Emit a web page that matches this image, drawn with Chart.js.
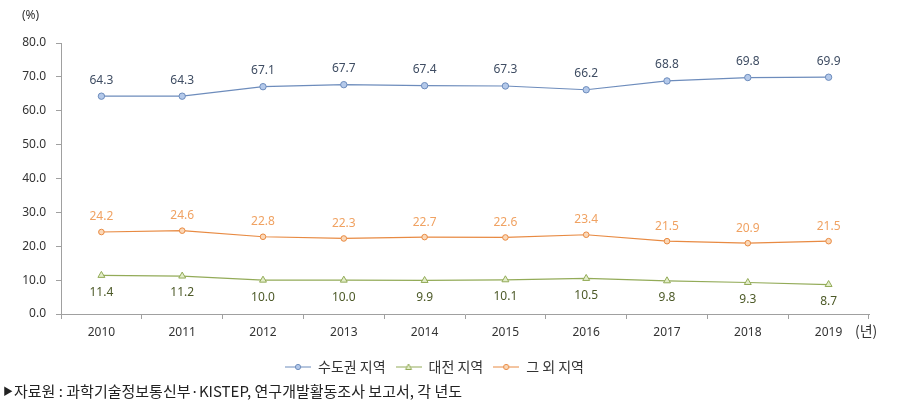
<!DOCTYPE html>
<html>
<head>
<meta charset="utf-8">
<script src="https://cdn.jsdelivr.net/npm/chart.js@4.4.0/dist/chart.umd.min.js"></script>
<style>
  html, body { margin: 0; padding: 0; background: #fff; }
  #wrap { position: relative; width: 897px; height: 415px; }
</style>
</head>
<body>
<div id="wrap"><canvas id="regionChart" width="897" height="415"></canvas></div>
<script>
const years = ['2010', '2011', '2012', '2013', '2014', '2015', '2016', '2017', '2018', '2019'];
const capitalArea = [64.3, 64.3, 67.1, 67.7, 67.4, 67.3, 66.2, 68.8, 69.8, 69.9];
const daejeon = [11.4, 11.2, 10.0, 10.0, 9.9, 10.1, 10.5, 9.8, 9.3, 8.7];
const otherArea = [24.2, 24.6, 22.8, 22.3, 22.7, 22.6, 23.4, 21.5, 20.9, 21.5];
const yTicks = [0, 10, 20, 30, 40, 50, 60, 70, 80];

const numFont = '"Noto Sans", "DejaVu Sans", sans-serif';
const krFont = '"Noto Sans CJK KR", "Noto Sans", sans-serif';

// little legend icons: line with the marker in the middle
function legendIcon(lineColor, fill, shape) {
    const c = document.createElement('canvas');
    c.width = 26; c.height = 10;
    const g = c.getContext('2d');
    g.strokeStyle = lineColor; g.lineWidth = 1;
    g.beginPath(); g.moveTo(0, 5); g.lineTo(26, 5); g.stroke();
    g.fillStyle = fill;
    g.beginPath();
    if (shape === 'triangle') {
        g.moveTo(13, 2); g.lineTo(16, 7.5); g.lineTo(10, 7.5); g.closePath();
    } else {
        g.arc(13, 5, 2.6, 0, Math.PI * 2);
    }
    g.fill(); g.stroke();
    return c;
}

const series = [
    { label: '수도권 지역', data: capitalArea, line: '#6d8cbc', fill: '#b4c9ea', shape: 'circle', r: 3.2, text: '#3f4d63', pos: 'above', off: 16 },
    { label: '대전 지역', data: daejeon, line: '#93ab58', fill: '#e2edc9', shape: 'triangle', r: 4, text: '#4d5a28', pos: 'below', off: 17 },
    { label: '그 외 지역', data: otherArea, line: '#e88a42', fill: '#fbd8b8', shape: 'circle', r: 2.8, text: '#f0a262', pos: 'above', off: 15 }
];

const valueLabels = {
    id: 'valueLabels',
    afterDatasetsDraw(chart) {
        const ctx = chart.ctx;
        ctx.save();
        ctx.font = '12px ' + numFont;
        ctx.textAlign = 'center';
        ctx.textBaseline = 'middle';
        chart.data.datasets.forEach((ds, i) => {
            const s = series[i];
            chart.getDatasetMeta(i).data.forEach((pt, j) => {
                const y = s.pos === 'above' ? pt.y - s.off : pt.y + s.off;
                ctx.fillStyle = s.text;
                ctx.fillText(ds.data[j].toFixed(1), pt.x, y);
            });
        });
        ctx.restore();
    }
};

const extraText = {
    id: 'extraText',
    afterDraw(chart) {
        const ctx = chart.ctx;
        ctx.save();
        ctx.fillStyle = '#333';
        ctx.textBaseline = 'middle';
        ctx.font = '12px ' + numFont;
        ctx.textAlign = 'left';
        ctx.fillText('(%)', 22, 16);
        ctx.font = '14px ' + krFont;
        ctx.fillText('(년)', 855, 331);
        ctx.font = '10px ' + krFont;
        ctx.fillStyle = '#222';
        ctx.fillText('▶', 3, 391);
        ctx.font = '15px ' + krFont;
        ctx.fillText('자료원 : 과학기술정보통신부·KISTEP, 연구개발활동조사 보고서, 각 년도', 14, 391);
        ctx.restore();
    }
};

const ctx = document.getElementById('regionChart').getContext('2d');
const chart = new Chart(ctx, {
    type: 'line',
    data: {
        labels: years,
        datasets: series.map(s => ({
            label: s.label,
            data: s.data,
            borderColor: s.line,
            borderWidth: 1.2,
            backgroundColor: s.fill,
            pointBackgroundColor: s.fill,
            pointBorderColor: s.line,
            pointBorderWidth: 1,
            pointStyle: s.shape,
            pointRadius: s.r,
            tension: 0
        }))
    },
    options: {
        responsive: false,
        animation: false,
        layout: { padding: { top: 43, right: 28, bottom: 31, left: 0 } },
        plugins: {
            tooltip: { enabled: false },
            legend: {
                position: 'bottom',
                labels: {
                    color: '#333',
                    font: { family: krFont, size: 14 },
                    padding: 10,
                    usePointStyle: true,
                    pointStyleWidth: 26,
                    generateLabels(chart) {
                        return series.map((s, i) => ({
                            text: s.label,
                            datasetIndex: i,
                            fontColor: '#333',
                            pointStyle: legendIcon(s.line, s.fill, s.shape),
                            hidden: false
                        }));
                    }
                }
            }
        },
        scales: {
            x: {
                offset: true,
                grid: { display: true, offset: true, drawOnChartArea: false, drawTicks: true, tickLength: 5, color: '#a0a0a0' },
                border: { color: '#a0a0a0' },
                ticks: { color: '#333', font: { family: numFont, size: 12 }, padding: 6 },
                afterFit(scale) { scale.height = 36; }
            },
            y: {
                min: 0,
                max: 80,
                afterBuildTicks(scale) { scale.ticks = yTicks.map(v => ({ value: v })); },
                grid: { display: true, drawOnChartArea: false, drawTicks: true, tickLength: 5, color: '#a0a0a0' },
                border: { color: '#a0a0a0' },
                ticks: { color: '#333', font: { family: numFont, size: 12 }, padding: 10, callback: v => v.toFixed(1) },
                afterFit(scale) { scale.width = 61; }
            }
        }
    },
    plugins: [valueLabels, extraText]
});
</script>
</body>
</html>
